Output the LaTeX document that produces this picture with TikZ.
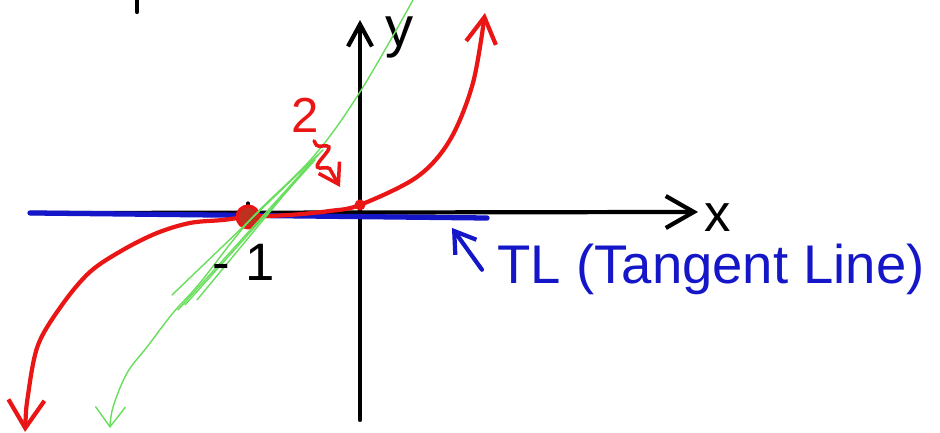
\documentclass[tikz,border=0pt]{standalone}
\usepackage{fontspec}
\setmainfont{Liberation Sans}
\usepackage{tikz}
\usetikzlibrary{calc,positioning,arrows.meta,decorations.pathmorphing}
\definecolor{penred}{RGB}{234,22,22}
\definecolor{penblue}{RGB}{20,22,200}
\definecolor{pengreen}{RGB}{104,222,92}
\tikzset{
  axisline/.style={line width=1.2pt, black, line cap=round},
  tlline/.style={line width=1.5pt, penblue, line cap=round},
  curveline/.style={line width=1.2pt, penred, line cap=round},
  secline/.style={line width=0.4pt, pengreen, line cap=round},
  plabel/.style={font=\fontsize{15}{18}\selectfont, inner sep=0pt},
  rlabel/.style={font=\fontsize{14}{16}\selectfont, penred, inner sep=0pt},
  blabel/.style={font=\fontsize{15.5}{18}\selectfont, penblue, inner sep=0pt},
}

\begin{document}
\begin{tikzpicture}[x=1.1cm,y=1.1cm]
  \useasboundingbox (-3.273,-2.009) rectangle (5.273,1.927);
  % eksenler
  \coordinate (xl) at (-3.0,-0.01);
  \coordinate (xr) at (3.073,0);
  \coordinate (yb) at (0,-1.891);
  \coordinate (yt) at (0,1.745);
  \draw[axisline, -{Straight Barb[length=2.8mm, width=3.2mm]}] (xl) -- (xr);
  \draw[axisline, -{Straight Barb[length=2.2mm, width=2.4mm]}] (yb) -- (yt);
  \node[plabel] (xlab) at (3.255,-0.05) {x};
  \node[plabel, font=\fontsize{16}{18}\selectfont] (ylab) at (0.355,1.59) {y};
  \draw[axisline] (-2.027,1.927) -- (-2.027,1.818);
  % teget dogru (TL)
  \coordinate (tla) at (-3.0,-0.009);
  \coordinate (tlb) at (1.155,-0.055);
  \draw[tlline] (tla) -- (tlb);
  % egri
  \draw[curveline, {Straight Barb[length=2.8mm, width=3.6mm]}-{Straight Barb[length=2.6mm, width=3mm]}]
    plot[smooth, tension=0.55] coordinates {
      (-3.045,-2.0) (-3.018,-1.664) (-2.927,-1.209) (-2.709,-0.845)
      (-2.455,-0.545) (-2.155,-0.345) (-1.845,-0.191) (-1.545,-0.1)
      (-1.245,-0.073) (-1.018,-0.045) (-0.636,-0.027) (-0.273,0.009)
      (0,0.064) (0.518,0.318) (0.818,0.655) (1.027,1.173) (1.136,1.809)};
  % noktalar
  \coordinate (P) at (-1.018,-0.045);
  \coordinate (Q) at (0,0.064);
  \draw[axisline, line width=1pt] (P) -- ++(0,0.125);
  \fill[penred] (P) circle (1.25mm);
  \fill[pengreen!60!black, opacity=0.25] (P) circle (0.9mm);
  \fill[penred] (Q) circle (0.55mm);
  % yaklasan dogrular
  \foreach \xa/\ya/\xb/\yb in {-0.336/0.564/-1.709/-0.755, -0.382/0.518/-1.655/-0.891,
                               -0.482/0.409/-1.482/-0.8, -0.409/0.473/-1.591/-0.845}{
    \draw[secline] (\xa,\ya) -- (\xb,\yb);
  }
  \draw[secline, -{Straight Barb[length=2mm, width=3mm]}]
    plot[smooth, tension=0.6] coordinates {
      (0.482,1.927) (0,1.091) (-0.427,0.5) (-1.0,-0.073) (-1.455,-0.645)
      (-1.7,-0.918) (-1.936,-1.227) (-2.118,-1.464) (-2.245,-1.773) (-2.273,-1.964)};
  % etiketler
  \node[plabel] (mone) at (-1.059,-0.455) {-\hspace{1.6mm}1};
  \node[rlabel] (two) at (-0.5,0.882) {2};
  \coordinate (sqtip) at (-0.182,0.227);
  \draw[curveline, line width=1pt,
        decoration={snake, amplitude=1mm, segment length=2.4mm, pre length=0.5mm, post length=1mm},
        decorate, -{Straight Barb[length=1.9mm, width=2.4mm]}]
    ([xshift=0.9mm, yshift=-0.8mm]two.south) -- (sqtip);
  \node[blabel, anchor=west] (tl) at (1.245,-0.525) {TL (Tangent Line)};
  \coordinate (tltip) at (0.836,-0.145);
  \draw[tlline, line width=1.2pt, -{Straight Barb[length=2mm, width=2.6mm]}]
    ([xshift=-1.5mm]tl.west) -- (tltip);
\end{tikzpicture}
\end{document}
